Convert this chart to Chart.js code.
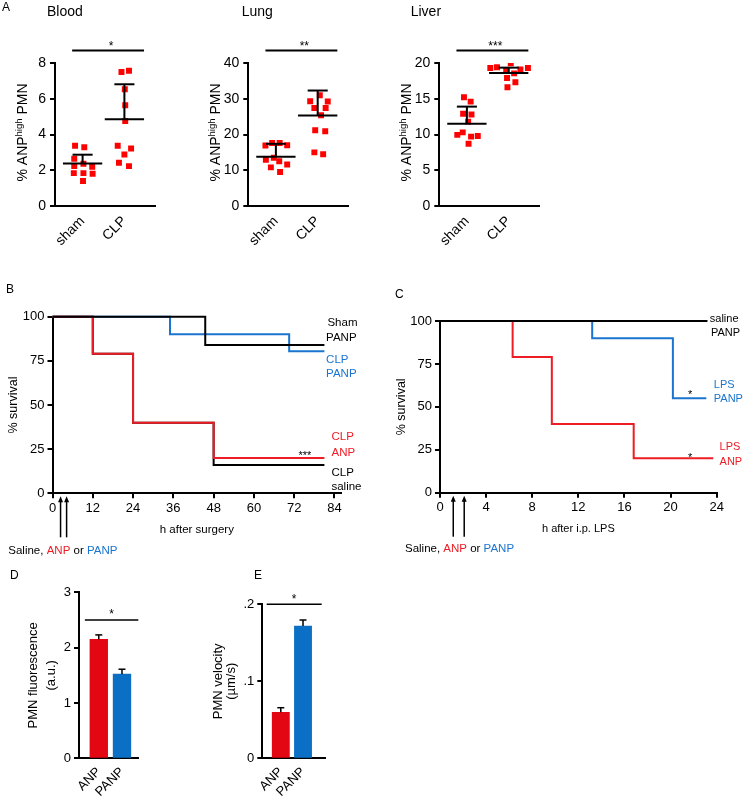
<!DOCTYPE html>
<html>
<head>
<meta charset="utf-8">
<script src="https://cdn.jsdelivr.net/npm/chart.js@4.4.1/dist/chart.umd.min.js"></script>
<style>
  html, body { margin: 0; padding: 0; background: #fff; }
  #fig { position: relative; width: 744px; height: 796px; overflow: hidden; background: #fff; }
  #fig canvas { position: absolute; }
</style>
</head>
<body>
<div id="fig">
  <canvas id="cBlood" width="180" height="270" style="left:0;top:0"></canvas>
  <canvas id="cLung"  width="180" height="270" style="left:190px;top:0"></canvas>
  <canvas id="cLiver" width="180" height="270" style="left:380px;top:0"></canvas>
  <canvas id="cSurg"  width="370" height="280" style="left:0;top:280px"></canvas>
  <canvas id="cLps"   width="374" height="280" style="left:370px;top:280px"></canvas>
  <canvas id="cFluor" width="180" height="231" style="left:0;top:565px"></canvas>
  <canvas id="cVelo"  width="180" height="231" style="left:185px;top:565px"></canvas>
</div>
<script>
// ---------- panel A: % ANP-high PMN per mouse ----------
const groupLabels = ['sham', 'CLP'];

const bloodTicks      = [0, 2, 4, 6, 8];
const bloodSham       = [3.37, 3.29, 2.64, 2.36, 2.20, 2.23, 1.84, 1.84, 1.80, 1.40];
const bloodShamJitter = [-0.18, 0.04, -0.2, 0.02, 0.23, -0.2, -0.21, 0.02, 0.24, 0.01];
const bloodCLP        = [7.50, 7.57, 6.53, 5.64, 4.76, 3.37, 3.22, 2.88, 2.42, 2.23];
const bloodCLPJitter  = [-0.07, 0.11, 0.01, 0.02, 0.02, -0.16, 0.16, 0, -0.13, 0.11];
const bloodMean       = [2.38, 4.86];
const bloodUpper      = [2.87, 6.81];

const lungTicks       = [0, 10, 20, 30, 40];
const lungSham        = [16.9, 17.6, 17.6, 17.0, 12.9, 13.5, 12.5, 10.8, 11.6, 9.5];
const lungShamJitter  = [-0.25, -0.09, 0.09, 0.27, -0.24, -0.05, 0.08, -0.12, 0.27, 0.1];
const lungCLP         = [31.0, 29.3, 29.25, 27.4, 27.4, 25.4, 21.2, 20.9, 15.0, 14.5];
const lungCLPJitter   = [0.05, -0.18, 0.24, -0.08, 0.19, 0.08, -0.06, 0.18, -0.08, 0.13];
const lungMean        = [13.8, 25.3];
const lungUpper       = [17.4, 32.3];

const liverTicks      = [0, 5, 10, 15, 20];
const liverSham       = [15.2, 14.6, 12.9, 12.8, 11.8, 9.95, 10.3, 9.7, 9.8, 8.7];
const liverShamJitter = [-0.07, 0.09, -0.09, 0.11, 0.03, -0.23, -0.1, 0.1, 0.26, 0.04];
const liverCLP        = [19.3, 19.4, 19.95, 19.3, 19.1, 18.9, 18.55, 17.9, 17.3, 16.6];
const liverCLPJitter  = [-0.44, -0.28, 0.05, 0.46, 0.28, -0.06, 0.13, -0.04, 0.16, -0.03];
const liverMean       = [11.5, 18.6];
const liverUpper      = [13.9, 19.35];

// ---------- panel B: survival after CLP ----------
const survivalTicks = [0, 25, 50, 75, 100];
const surgeryTicks  = [0, 12, 24, 36, 48, 60, 72, 84];
const shamPanpHours   = [0, 45.5, 81];          const shamPanpSurv   = [100, 84, 84];
const clpPanpHours    = [0, 35, 70.5, 81];      const clpPanpSurv    = [100, 90, 80.5, 80.5];
const clpAnpHours     = [0, 12, 24, 48, 81];    const clpAnpSurv     = [100, 79, 40, 20, 20];
const clpSalineHours  = [0, 12, 24, 48, 81];    const clpSalineSurv  = [100, 79, 40, 16, 16];
const surgeryDoses    = [2.4, 4.2];

// ---------- panel C: survival after i.p. LPS ----------
const lpsTicks = [0, 4, 8, 12, 16, 20, 24];
const salinePanpHours = [0, 23.2];              const salinePanpSurv = [100, 100];
const lpsPanpHours    = [0, 13.2, 20.2, 23.1];  const lpsPanpSurv    = [100, 90, 55, 55];
const lpsAnpHours     = [0, 6.3, 9.7, 16.8, 23.7]; const lpsAnpSurv  = [100, 79, 40, 20, 20];
const lpsDoses        = [1.15, 2.1];

// ---------- panels D, E ----------
const barLabels    = ['ANP', 'PANP'];
const fluorTicks   = [0, 1, 2, 3];
const fluorMean    = [2.15, 1.52];
const fluorErr     = [0.08, 0.09];
const veloTicks    = [0, 0.1, 0.2];
const veloMean     = [0.0597, 0.1718];
const veloErr      = [0.006, 0.0078];

const FONT = '"Liberation Sans", Arial, Helvetica, sans-serif';
const RED = '#ee1c25', BLUE = '#1b75d0', DOT = '#ff0000';
const BAR_RED = '#e30613', BAR_BLUE = '#0b6fc6';
Chart.defaults.font.family = FONT;
Chart.defaults.color = '#000';

function txt(ctx, s, x, y, o = {}) {
  ctx.save();
  ctx.font = (o.size || 12) + 'px ' + FONT;
  ctx.fillStyle = o.color || '#000';
  ctx.textAlign = o.align || 'left';
  ctx.textBaseline = o.base || 'middle';
  ctx.fillText(s, x, y);
  ctx.restore();
}

function line(ctx, x1, y1, x2, y2, w) {
  ctx.save();
  ctx.strokeStyle = '#000';
  ctx.lineWidth = w || 2;
  ctx.beginPath(); ctx.moveTo(x1, y1); ctx.lineTo(x2, y2); ctx.stroke();
  ctx.restore();
}

function arrow(ctx, x, yTip, yTail) {
  line(ctx, x, yTail, x, yTip + 4, 1.5);
  ctx.save();
  ctx.fillStyle = '#000';
  ctx.beginPath(); ctx.moveTo(x, yTip); ctx.lineTo(x - 2.5, yTip + 6); ctx.lineTo(x + 2.5, yTip + 6); ctx.closePath(); ctx.fill();
  ctx.restore();
}

function colorText(ctx, parts, x, y, size) {
  ctx.save();
  ctx.font = size + 'px ' + FONT;
  ctx.textBaseline = 'middle';
  parts.forEach(([s, c]) => { ctx.fillStyle = c; ctx.fillText(s, x, y); x += ctx.measureText(s).width; });
  ctx.restore();
}

function axis(o) {
  return {
    type: 'linear', min: o.min, max: o.max, offset: false,
    afterBuildTicks: s => { s.ticks = o.ticks.map(v => ({ value: v })); },
    afterFit: s => { if (o.w != null) s.width = o.w; if (o.h != null) s.height = o.h; },
    ticks: {
      autoSkip: false, color: '#000', font: { size: o.size }, padding: o.pad,
      maxRotation: o.rot || 0, minRotation: o.rot || 0,
      callback: o.fmt || (v => v)
    },
    grid: { display: true, offset: false, drawOnChartArea: false, drawTicks: !o.noTicks, tickLength: 5, color: '#000', lineWidth: 2 },
    border: { display: true, color: '#000', width: 2 },
    title: o.title || { display: false }
  };
}

const base = pad => ({
  responsive: false, animation: false, events: [],
  layout: { padding: pad },
  plugins: { legend: { display: false }, tooltip: { enabled: false } }
});

// ---------- A: dot plots ----------
function dotPlot(id, c) {
  const pts = (vals, jit, k) => vals.map((v, i) => ({ x: k + jit[i], y: v }));
  const dot = { pointStyle: 'rect', pointRadius: 4.2, backgroundColor: DOT, borderWidth: 0 };
  return new Chart(document.getElementById(id), {
    type: 'scatter',
    data: { datasets: [
      { data: pts(c.sham, c.shamJit, 0), ...dot },
      { data: pts(c.clp, c.clpJit, 1), ...dot }
    ]},
    options: {
      ...base({ left: 0, top: 63, right: c.padR, bottom: 0 }),
      scales: {
        x: axis({ min: -0.66, max: 1.72, ticks: [0, 1], fmt: v => groupLabels[v], size: 14, rot: 45, noTicks: true, pad: 7, h: 64 }),
        y: axis({ min: 0, max: c.ticks[c.ticks.length - 1], ticks: c.ticks, size: 14, pad: 4, w: c.axisX })
      }
    },
    plugins: [{
      id: 'dotDecor',
      afterDatasetsDraw(chart) {
        const { ctx, chartArea: a, scales: { x, y } } = chart;
        const u = x.getPixelForValue(1) - x.getPixelForValue(0);
        [0, 1].forEach(i => {
          const xc = x.getPixelForValue(i), ym = y.getPixelForValue(c.mean[i]), yu = y.getPixelForValue(c.upper[i]);
          line(ctx, xc - 0.47 * u, ym, xc + 0.47 * u, ym);
          line(ctx, xc, ym, xc, yu);
          line(ctx, xc - 0.24 * u, yu, xc + 0.24 * u, yu);
        });
        // significance bar
        const ys = a.top - 12.5;
        line(ctx, x.getPixelForValue(-0.25), ys, x.getPixelForValue(1.47), ys);
        txt(ctx, c.stars, x.getPixelForValue(0.68), ys - 0.5, { size: 12, align: 'center', base: 'alphabetic' });
        // titles
        if (c.letter) txt(ctx, c.letter, 2, 8, { size: 12 });
        txt(ctx, c.title, c.titleX, 12, { size: 14 });
        // rotated y title with superscript
        const parts = [['% ANP', 14, 0], ['high', 9.5, -5], [' PMN', 14, 0]];
        ctx.save();
        ctx.translate(a.left - 33.5, (a.top + a.bottom) / 2 - 2);
        ctx.rotate(-Math.PI / 2);
        ctx.fillStyle = '#000';
        ctx.textBaseline = 'alphabetic';
        let total = 0;
        parts.forEach(p => { ctx.font = p[1] + 'px ' + FONT; total += ctx.measureText(p[0]).width; });
        let px = -total / 2;
        parts.forEach(p => { ctx.font = p[1] + 'px ' + FONT; ctx.fillText(p[0], px, 5 + p[2]); px += ctx.measureText(p[0]).width; });
        ctx.restore();
      }
    }]
  });
}

dotPlot('cBlood', { sham: bloodSham, shamJit: bloodShamJitter, clp: bloodCLP, clpJit: bloodCLPJitter,
  mean: bloodMean, upper: bloodUpper, ticks: bloodTicks, stars: '*', title: 'Blood', titleX: 47, letter: 'A', axisX: 55, padR: 25.5 });
dotPlot('cLung', { sham: lungSham, shamJit: lungShamJitter, clp: lungCLP, clpJit: lungCLPJitter,
  mean: lungMean, upper: lungUpper, ticks: lungTicks, stars: '**', title: 'Lung', titleX: 51.7, axisX: 58.3, padR: 22.2 });
dotPlot('cLiver', { sham: liverSham, shamJit: liverShamJitter, clp: liverCLP, clpJit: liverCLPJitter,
  mean: liverMean, upper: liverUpper, ticks: liverTicks, stars: '***', title: 'Liver', titleX: 30.7, axisX: 59.3, padR: 21.2 });

// ---------- B, C: survival curves ----------
function survival(id, c) {
  const ds = c.series.map(s => ({
    data: s.h.map((h, i) => ({ x: h, y: s.v[i] })),
    borderColor: s.color, borderWidth: 2, stepped: 'before', pointRadius: 0, fill: false, order: s.order, clip: false
  }));
  return new Chart(document.getElementById(id), {
    type: 'line',
    data: { datasets: ds },
    options: {
      ...base({ left: 0, top: c.top, right: c.padR, bottom: 0 }),
      scales: {
        x: axis({ min: 0, max: c.xMax, ticks: c.xTicks, size: 13, pad: 2, h: c.xH,
          title: { display: true, text: c.xTitle, font: { size: c.xTitleSize }, padding: { bottom: c.xTitlePad } } }),
        y: axis({ min: 0, max: 100, ticks: survivalTicks, size: 13, pad: 3, w: c.yW,
          title: { display: true, text: '% survival', font: { size: 12.5 }, padding: { top: c.yTitlePad } } })
      }
    },
    plugins: [{
      id: 'survDecor',
      afterDraw(chart) {
        const { ctx, chartArea: a, scales: { x, y } } = chart;
        txt(ctx, c.letter, c.letterX, c.letterY, { size: 12 });
        c.labels.forEach(l => txt(ctx, l[0], x.getPixelForValue(l[1]), y.getPixelForValue(l[2]), { size: c.labelSize, color: l[3] }));
        c.stars.forEach(s => txt(ctx, s[0], x.getPixelForValue(s[1]), y.getPixelForValue(s[2]), { size: 11, align: 'center', base: 'alphabetic' }));
        c.doses.forEach(h => arrow(ctx, x.getPixelForValue(h), a.bottom + 3, a.bottom + 44));
        colorText(ctx, [['Saline, ', '#000'], ['ANP', RED], [' or ', '#000'], ['PANP', BLUE]], c.noteX, c.noteY, 11.5);
      }
    }]
  });
}

survival('cSurg', {
  series: [
    { h: shamPanpHours, v: shamPanpSurv, color: '#000', order: 0 },
    { h: clpAnpHours, v: clpAnpSurv, color: RED, order: 1 },
    { h: clpPanpHours, v: clpPanpSurv, color: BLUE, order: 2 },
    { h: clpSalineHours, v: clpSalineSurv, color: '#000', order: 3 }
  ],
  top: 36.7, padR: 28.8, xMax: 86, xTicks: surgeryTicks, xH: 66.7, yW: 52.5,
  xTitle: 'h after surgery', xTitleSize: 11.5, xTitlePad: 23.1, yTitlePad: 5.8,
  letter: 'B', letterX: 6, letterY: 10,
  labelSize: 11.5,
  labels: [
    ['Sham', 81.9, 96.4, '#000'], ['PANP', 81.5, 87.9, '#000'],
    ['CLP', 81.5, 75.5, BLUE], ['PANP', 81.5, 67.6, BLUE],
    ['CLP', 83.1, 31.9, RED], ['ANP', 83.1, 22.8, RED],
    ['CLP', 83.1, 11.5, '#000'], ['saline', 83.1, 3.6, '#000']
  ],
  stars: [['***', 75.2, 19.5]],
  doses: surgeryDoses, noteX: 8.3, noteY: 270.7
});

survival('cLps', {
  series: [
    { h: salinePanpHours, v: salinePanpSurv, color: '#000', order: 0 },
    { h: lpsAnpHours, v: lpsAnpSurv, color: RED, order: 1 },
    { h: lpsPanpHours, v: lpsPanpSurv, color: BLUE, order: 2 }
  ],
  top: 41, padR: 27.3, xMax: 24, xTicks: lpsTicks, xH: 67.3, yW: 70,
  xTitle: 'h after i.p. LPS', xTitleSize: 11, xTitlePad: 24.4, yTitlePad: 24.2,
  letter: 'C', letterX: 25, letterY: 15,
  labelSize: 11,
  labels: [
    ['saline', 23.4, 101.2, '#000'], ['PANP', 23.5, 93.2, '#000'],
    ['LPS', 23.75, 62.7, BLUE], ['PANP', 23.75, 54.6, BLUE],
    ['LPS', 24.25, 26.8, RED], ['ANP', 24.25, 18.1, RED]
  ],
  stars: [['*', 21.7, 55], ['*', 21.7, 18.6]],
  doses: lpsDoses, noteX: 35, noteY: 269.3
});

// ---------- D, E: bar charts ----------
function bars(id, c) {
  return new Chart(document.getElementById(id), {
    type: 'bar',
    data: { datasets: [{
      data: c.mean.map((v, i) => ({ x: i, y: v })),
      backgroundColor: [BAR_RED, BAR_BLUE], borderWidth: 0, barThickness: c.bw
    }]},
    options: {
      ...base({ left: 0, top: c.top, right: c.padR, bottom: 0 }),
      scales: {
        x: axis({ min: c.xMin, max: c.xMax, ticks: [0, 1], fmt: v => barLabels[v], size: 13, rot: 45, noTicks: true, pad: 6, h: 37.7 }),
        y: axis({ min: 0, max: c.ticks[c.ticks.length - 1], ticks: c.ticks, size: 13, pad: 3, w: c.yW, fmt: c.fmt,
          title: { display: true, text: c.yTitle, font: { size: 13, lineHeight: c.lh }, padding: { top: c.yTitlePad } } })
      }
    },
    plugins: [{
      id: 'barDecor',
      afterDatasetsDraw(chart) {
        const { ctx, scales: { x, y } } = chart;
        c.mean.forEach((m, i) => {
          const xc = x.getPixelForValue(i), yt = y.getPixelForValue(m), ye = y.getPixelForValue(m + c.err[i]);
          line(ctx, xc, yt, xc, ye, 1.5);
          line(ctx, xc - 3.5, ye, xc + 3.5, ye, 1.5);
        });
        const ys = y.getPixelForValue(c.sigY);
        line(ctx, x.getPixelForValue(c.sig[0]), ys, x.getPixelForValue(c.sig[1]), ys, 1.5);
        txt(ctx, '*', x.getPixelForValue(c.sig[2]), ys - 1.5, { size: 12, align: 'center', base: 'alphabetic' });
        txt(ctx, c.letter, c.letterX, 10.7, { size: 12 });
      }
    }]
  });
}

bars('cFluor', { mean: fluorMean, err: fluorErr, ticks: fluorTicks, top: 27.3, padR: 41.7, yW: 79,
  xMin: -0.853, xMax: 1.703, bw: 17.7, yTitle: ['PMN fluorescence', '(a.u.)'], lh: '18px', yTitlePad: 24.8,
  sigY: 2.5, sig: [-0.6, 1.703, 0.556], letter: 'D', letterX: 10 });

bars('cVelo', { mean: veloMean, err: veloErr, ticks: veloTicks, top: 39.3, padR: 40, yW: 77.3,
  fmt: v => (v === 0 ? '0' : String(v).replace(/^0/, '')),
  xMin: -0.833, xMax: 1.99, bw: 17.2, yTitle: ['PMN velocity', '(\u00b5m/s)'], lh: '13px', yTitlePad: 27.2,
  sigY: 0.2, sig: [-0.635, 1.84, 0.595], letter: 'E', letterX: 69 });
</script>
</body>
</html>
